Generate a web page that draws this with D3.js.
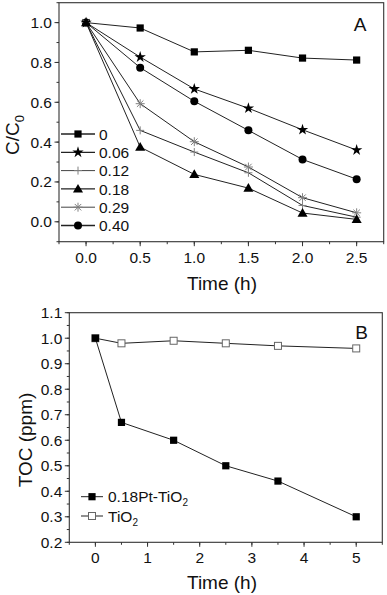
<!DOCTYPE html>
<html>
<head>
<meta charset="utf-8">
<script src="https://cdn.jsdelivr.net/npm/d3@7"></script>
<style>
  body { margin: 0; background: #fff; }
  svg text { font-family: "Liberation Sans", Arial, sans-serif; fill: #111; }
</style>
</head>
<body>
<svg id="chart" width="387" height="595"></svg>
<script>
// panel A data: C/C0 vs time for each Pt loading
const timesA = [0, 0.5, 1.0, 1.5, 2.0, 2.5];
const loadings = ["0", "0.06", "0.12", "0.18", "0.29", "0.40"];
const s0    = [1.0, 0.973, 0.853, 0.861, 0.822, 0.812];
const s006  = [1.0, 0.827, 0.667, 0.570, 0.462, 0.360];
const s012  = [1.0, 0.459, 0.350, 0.246, 0.082, 0.023];
const s018  = [1.0, 0.375, 0.238, 0.169, 0.044, 0.012];
const s029  = [1.0, 0.593, 0.402, 0.275, 0.121, 0.045];
const s040  = [1.0, 0.774, 0.605, 0.459, 0.313, 0.214];
const ticksAx = [0, 0.5, 1.0, 1.5, 2.0, 2.5];
const ticksAy = [0, 0.2, 0.4, 0.6, 0.8, 1.0];

// panel B data: TOC vs time
const timesB = [0, 0.5, 1.5, 2.5, 3.5, 5];
const tocPt  = [1.0, 0.67, 0.60, 0.50, 0.44, 0.30];
const tocTi  = [1.0, 0.98, 0.99, 0.98, 0.97, 0.96];
const ticksBx = [0, 1, 2, 3, 4, 5];
const ticksBy = [0.2, 0.3, 0.4, 0.5, 0.6, 0.7, 0.8, 0.9, 1.0, 1.1];

const svg = d3.select("#chart");
const lineCol = "#222";
const grey = "#808080";

// custom marker paths
function plusPath(r) { return `M${-r},0H${r}M0,${-r}V${r}`; }
function asteriskPath(r) {
    let k = r * 0.72;
    return `M${-r},0H${r}M0,${-r}V${r}M${-k},${-k}L${k},${k}M${-k},${k}L${k},${-k}`;
}

function drawMarker(g, kind, x, y) {
    if (kind === "square") {
        g.append("rect").attr("x", x - 3.6).attr("y", y - 3.6).attr("width", 7.2).attr("height", 7.2).attr("fill", "#000");
    } else if (kind === "star") {
        g.append("path").attr("d", d3.symbol(d3.symbolStar, 40)()).attr("transform", `translate(${x},${y})`).attr("fill", "#000");
    } else if (kind === "plus") {
        g.append("path").attr("d", plusPath(4)).attr("transform", `translate(${x},${y})`).attr("stroke", grey).attr("stroke-width", 1).attr("fill", "none");
    } else if (kind === "triangle") {
        g.append("path").attr("d", d3.symbol(d3.symbolTriangle, 44)()).attr("transform", `translate(${x},${y + 0.8})`).attr("fill", "#000");
    } else if (kind === "asterisk") {
        g.append("path").attr("d", asteriskPath(4.5)).attr("transform", `translate(${x},${y})`).attr("stroke", grey).attr("stroke-width", 1).attr("fill", "none");
    } else if (kind === "circle") {
        g.append("circle").attr("cx", x).attr("cy", y).attr("r", 4).attr("fill", "#000");
    } else if (kind === "opensquare") {
        g.append("rect").attr("x", x - 3.5).attr("y", y - 3.5).attr("width", 7).attr("height", 7).attr("fill", "#fff").attr("stroke", "#666").attr("stroke-width", 1);
    }
}

// frame + axes with major and minor ticks (all ticks pointing outward)
function drawFrame(x, y, xMajor, xMinor, yMajor, yMinor, xFmt, yFmt) {
    const g = svg.append("g");
    const [x0, x1] = x.range();
    const [y0, y1] = y.range();
    g.append("rect").attr("x", x0).attr("y", y1).attr("width", x1 - x0).attr("height", y0 - y1)
        .attr("fill", "none").attr("stroke", "#333").attr("stroke-width", 1.1);

    xMinor.forEach(v => g.append("line").attr("x1", x(v)).attr("x2", x(v)).attr("y1", y0).attr("y2", y0 + 2.5).attr("stroke", "#333"));
    xMajor.forEach(v => {
        g.append("line").attr("x1", x(v)).attr("x2", x(v)).attr("y1", y0).attr("y2", y0 + 4.5).attr("stroke", "#333");
        g.append("text").attr("x", x(v)).attr("y", y0 + 21).attr("text-anchor", "middle")
            .style("font-size", "15.5px").text(xFmt(v));
    });
    yMinor.forEach(v => g.append("line").attr("x1", x0).attr("x2", x0 - 2.5).attr("y1", y(v)).attr("y2", y(v)).attr("stroke", "#333"));
    yMajor.forEach(v => {
        g.append("line").attr("x1", x0).attr("x2", x0 - 4.5).attr("y1", y(v)).attr("y2", y(v)).attr("stroke", "#333");
        g.append("text").attr("x", x0 - 7).attr("y", y(v) + 5.5).attr("text-anchor", "end")
            .style("font-size", "15.5px").text(yFmt(v));
    });
    return g;
}

function drawSeries(g, x, y, xs, ys, kind) {
    const pts = xs.map((t, i) => [t, ys[i]]);
    g.append("path").datum(pts)
        .attr("d", d3.line().x(d => x(d[0])).y(d => y(d[1])))
        .attr("fill", "none").attr("stroke", lineCol).attr("stroke-width", 1);
    pts.forEach(p => drawMarker(g, kind, x(p[0]), y(p[1])));
}

// ---------- panel A ----------
function drawA() {
    const x = d3.scaleLinear().domain([-0.25, 2.75]).range([59, 383.7]);
    const y = d3.scaleLinear().domain([-0.1, 1.1]).range([241.7, 2.7]);
    const g = drawFrame(x, y, ticksAx, d3.range(-0.25, 2.76, 0.25), ticksAy, d3.range(-0.1, 1.11, 0.1),
        d3.format(".1f"), d3.format(".1f"));

    const series = [s0, s006, s012, s018, s029, s040];
    const kinds = ["square", "star", "plus", "triangle", "asterisk", "circle"];
    // draw the faster ones last like the original
    [0, 1, 5, 4, 2, 3].forEach(i => drawSeries(g, x, y, timesA, series[i], kinds[i]));

    // legend
    loadings.forEach((lab, i) => {
        let ly = 134 + i * 18.3;
        g.append("line").attr("x1", 61).attr("x2", 95).attr("y1", ly).attr("y2", ly)
            .attr("stroke", i === 2 || i === 4 ? "#444" : lineCol).attr("stroke-width", i === 2 || i === 4 ? 1 : 1.3);
        drawMarker(g, kinds[i], 78, ly);
        g.append("text").attr("x", 99).attr("y", ly + 5.6).style("font-size", "15.5px").text(lab);
    });

    g.append("text").attr("x", 360).attr("y", 31).attr("text-anchor", "middle").style("font-size", "19px").text("A");
    g.append("text").attr("x", 222).attr("y", 290).attr("text-anchor", "middle").style("font-size", "19px").text("Time (h)");

    const yl = g.append("text").attr("transform", "translate(18.5,135) rotate(-90)")
        .attr("text-anchor", "middle").style("font-size", "19px");
    yl.append("tspan").text("C/C");
    yl.append("tspan").attr("dy", 5).style("font-size", "13px").text("0");
}

// ---------- panel B ----------
function drawB() {
    const x = d3.scaleLinear().domain([-0.5, 5.5]).range([69.3, 382.3]);
    const y = d3.scaleLinear().domain([0.2, 1.1]).range([542.3, 312.7]);
    const g = drawFrame(x, y, ticksBx, d3.range(-0.5, 5.51, 0.5), ticksBy, d3.range(0.2, 1.101, 0.05),
        d3.format("d"), d3.format(".1f"));

    drawSeries(g, x, y, timesB, tocTi, "opensquare");
    drawSeries(g, x, y, timesB, tocPt, "square");

    // legend
    const legB = [["square", "0.18Pt-TiO", "2"], ["opensquare", "TiO", "2"]];
    legB.forEach((d, i) => {
        let ly = 496.7 + i * 19.3;
        g.append("line").attr("x1", 81).attr("x2", 103).attr("y1", ly).attr("y2", ly).attr("stroke", lineCol);
        drawMarker(g, d[0], 92, ly);
        const t = g.append("text").attr("x", 108).attr("y", ly + 5.6).style("font-size", "15.5px");
        t.append("tspan").text(d[1]);
        t.append("tspan").attr("dy", 4).style("font-size", "10px").text(d[2]);
    });

    g.append("text").attr("x", 361.5).attr("y", 338.5).attr("text-anchor", "middle").style("font-size", "19px").text("B");
    g.append("text").attr("x", 222).attr("y", 589).attr("text-anchor", "middle").style("font-size", "19px").text("Time (h)");
    g.append("text").attr("transform", "translate(32,440) rotate(-90)")
        .attr("text-anchor", "middle").style("font-size", "19px").text("TOC (ppm)");
}

drawA();
drawB();
</script>
</body>
</html>
